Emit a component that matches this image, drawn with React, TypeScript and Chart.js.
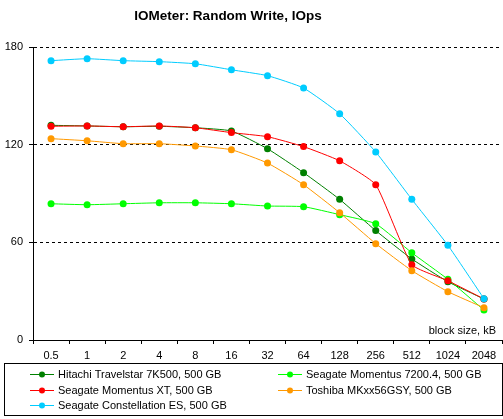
import React, { useEffect, useRef } from "react";
import { Chart, registerables } from "chart.js";

Chart.register(...registerables);

const chartTitle = "IOMeter: Random Write, IOps";
const axisLabel = "block size, kB";
const blockSizes = ["0.5", "1", "2", "4", "8", "16", "32", "64", "128", "256", "512", "1024", "2048"];
const yTicks = [0, 60, 120, 180];

const seriesNames = [
  "Hitachi Travelstar 7K500, 500 GB",
  "Seagate Momentus 7200.4, 500 GB",
  "Seagate Momentus XT, 500 GB",
  "Toshiba MKxx56GSY, 500 GB",
  "Seagate Constellation ES, 500 GB",
];
const seriesColors = ["#008000", "#00FF00", "#FF0000", "#FF9900", "#00CCFF"];

const hitachi = [131.9, 131.5, 131, 131.3, 130.4, 128.4, 117.5, 102.8, 86.4, 67.2, 49.8, 35.8, 25.2];
const momentus7200 = [83.7, 83.1, 83.7, 84.3, 84.3, 83.7, 82.3, 81.9, 77, 71.4, 53.6, 37.3, 18.4];
const momentusXT = [131.3, 131.5, 131, 131.5, 130.4, 127.4, 124.9, 118.8, 110.1, 95.4, 46.3, 36.4, 25.2];
const toshiba = [123.7, 122.4, 120.6, 120.6, 119.2, 116.9, 108.7, 95.4, 78.2, 59.2, 42.6, 29.7, 19.8];
const constellation = [171.6, 172.8, 171.6, 171, 169.7, 166, 162.4, 154.8, 139, 115.5, 86.4, 58.2, 25.4];

const seriesValues = [hitachi, momentus7200, momentusXT, toshiba, constellation];

const FONT = '"Liberation Sans", Arial, sans-serif';

const decorPlugin = {
  id: "decor",
  afterDraw(chart: any) {
    const ctx = chart.ctx;
    const area = chart.chartArea;
    ctx.save();
    // title
    ctx.fillStyle = "#000";
    ctx.font = `bold 13.5px ${FONT}`;
    ctx.textAlign = "center";
    ctx.textBaseline = "middle";
    ctx.fillText(chartTitle, 228, 16);
    // axis label
    ctx.font = `11px ${FONT}`;
    ctx.textAlign = "right";
    ctx.fillText(axisLabel, 496, area.bottom - 9);
    // legend box
    ctx.strokeStyle = "#000";
    ctx.lineWidth = 1;
    ctx.strokeRect(4.5, 363.5, 498, 52);
    ctx.textAlign = "left";
    chart.data.datasets.forEach((ds: any, i: number) => {
      const col = i % 2;
      const row = Math.floor(i / 2);
      const x0 = col === 0 ? 30 : 278;
      const y = 374 + row * 15.5;
      ctx.strokeStyle = ds.borderColor;
      ctx.beginPath();
      ctx.moveTo(x0, Math.round(y) + 0.5);
      ctx.lineTo(x0 + 24, Math.round(y) + 0.5);
      ctx.stroke();
      ctx.fillStyle = ds.borderColor;
      ctx.beginPath();
      ctx.arc(x0 + 12, Math.round(y) + 0.5, 3, 0, Math.PI * 2);
      ctx.fill();
      ctx.fillStyle = "#000";
      ctx.fillText(ds.label, x0 + 28, Math.round(y) + 1);
    });
    ctx.restore();
  },
};

export default function App() {
  const ref = useRef<HTMLCanvasElement>(null);
  useEffect(() => {
    document.body.style.margin = "0";
    document.body.style.overflow = "hidden";
    const canvas = ref.current!;
    const chart = new Chart(canvas, {
      type: "line",
      data: {
        labels: blockSizes,
        datasets: seriesNames.map((name, i) => ({
          label: name,
          data: seriesValues[i],
          borderColor: seriesColors[i],
          backgroundColor: seriesColors[i],
          borderWidth: 1,
          tension: 0.15,
          pointRadius: 3.5,
          pointStyle: "circle",
          pointBorderWidth: 0,
          order: -i,
          fill: false,
        })),
      },
      options: {
        responsive: false,
        animation: false,
        layout: { padding: { top: 47, bottom: 56, left: 0, right: 0 } },
        plugins: {
          legend: { display: false },
          title: { display: false },
          tooltip: { enabled: false },
        },
        scales: {
          x: {
            type: "category",
            offset: true,
            afterFit: (s: any) => {
              s.height = 23;
            },
            grid: {
              offset: true,
              drawOnChartArea: false,
              drawTicks: true,
              tickLength: 4,
              color: "#000",
            },
            border: { color: "#000", width: 1 },
            ticks: {
              color: "#000",
              font: { family: FONT, size: 11 },
              padding: 5,
              maxRotation: 0,
              autoSkip: false,
            },
          },
          y: {
            min: 0,
            max: 180,
            afterFit: (s: any) => {
              s.width = 33;
            },
            afterBuildTicks: (s: any) => {
              s.ticks = yTicks.map((v) => ({ value: v }));
            },
            grid: {
              color: "#000",
              drawTicks: true,
              tickLength: 4,
              tickBorderDash: [],
            },
            border: { color: "#000", width: 1, dash: [3, 3] },
            ticks: {
              color: "#000",
              font: { family: FONT, size: 11 },
              padding: 6,
            },
          },
        },
      },
      plugins: [decorPlugin],
    } as any);
    return () => chart.destroy();
  }, []);
  return (
    <div style={{ width: 503, height: 419, overflow: "hidden" }}>
      <canvas ref={ref} width={506} height={419} style={{ display: "block" }} />
    </div>
  );
}
